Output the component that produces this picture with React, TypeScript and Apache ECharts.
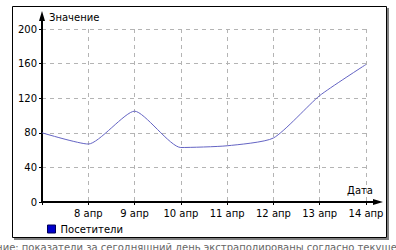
import React, { useEffect, useRef } from "react";
import * as echarts from "echarts";

const dates = ["7 апр", "8 апр", "9 апр", "10 апр", "11 апр", "12 апр", "13 апр", "14 апр"];
const visitors = [80, 67, 105, 63, 65, 74, 123, 159];
const yTicks = [0, 40, 80, 120, 160, 200];
const seriesName = "Посетители";
const yTitle = "Значение";
const xTitle = "Дата";
const footnote = "Примечание: показатели за сегодняшний день экстраполированы согласно текущему времени";

const FONT = "DejaVu Sans";

export default function App() {
  const ref = useRef<HTMLDivElement>(null);
  useEffect(() => {
    const chart = echarts.init(ref.current!, null, { renderer: "svg" });
    chart.setOption({
      animation: false,
      backgroundColor: "#fff",
      textStyle: { fontFamily: FONT },
      grid: { left: 42, top: 29, right: 30, bottom: 48, containLabel: false },
      legend: {
        left: 47,
        top: 224,
        icon: "rect",
        itemWidth: 8,
        itemHeight: 8,
        itemGap: 4,
        padding: 0,
        textStyle: { fontFamily: FONT, fontSize: 10, color: "#000" },
        data: [{ name: seriesName, itemStyle: { color: "#0000cc", borderColor: "#000055", borderWidth: 1 } }],
      },
      xAxis: {
        type: "category",
        data: dates,
        boundaryGap: false,
        axisLine: { show: true, lineStyle: { color: "#000", width: 2 } },
        axisTick: { show: true, length: 3, lineStyle: { color: "#000" }, alignWithLabel: true },
        axisLabel: {
          fontFamily: FONT,
          fontSize: 10,
          color: "#000",
          margin: 6,
          formatter: (v: string, i: number) => (i === 0 ? "" : v),
        },
        splitLine: { show: true, lineStyle: { color: "#b4b4b4", type: [4, 4], width: 1 } },
      },
      yAxis: {
        type: "value",
        min: yTicks[0],
        max: yTicks[yTicks.length - 1],
        interval: 40,
        axisLine: { show: true, lineStyle: { color: "#000", width: 2 } },
        axisTick: { show: true, length: 3, lineStyle: { color: "#000" } },
        axisLabel: { fontFamily: FONT, fontSize: 10, color: "#000", margin: 5 },
        splitLine: { show: true, lineStyle: { color: "#b4b4b4", type: [4, 4], width: 1 } },
      },
      series: [
        {
          name: seriesName,
          type: "line",
          data: visitors,
          smooth: 0.2,
          showSymbol: false,
          symbol: "none",
          lineStyle: { color: "#6464c4", width: 1 },
          itemStyle: { color: "#0000cc", borderColor: "#000055", borderWidth: 1 },
        },
      ],
      graphic: [
        {
          type: "rect",
          z: -10,
          silent: true,
          shape: { x: 12.5, y: 6.5, width: 374, height: 231 },
          style: { fill: "none", stroke: "#000", lineWidth: 1 },
        },
        {
          type: "line",
          silent: true,
          shape: { x1: 388, y1: 8, x2: 388, y2: 239 },
          style: { stroke: "#808080", lineWidth: 2 },
        },
        {
          type: "line",
          silent: true,
          shape: { x1: 14, y1: 239, x2: 389, y2: 239 },
          style: { stroke: "#808080", lineWidth: 2 },
        },
        {
          type: "line",
          silent: true,
          z: 10,
          shape: { x1: 42, y1: 29, x2: 42, y2: 18 },
          style: { stroke: "#000", lineWidth: 2 },
        },
        {
          type: "polygon",
          silent: true,
          z: 10,
          shape: { points: [[42, 11], [45, 21], [39, 21]] },
          style: { fill: "#000" },
        },
        {
          type: "line",
          silent: true,
          z: 10,
          shape: { x1: 366, y1: 202, x2: 376, y2: 202 },
          style: { stroke: "#000", lineWidth: 2 },
        },
        {
          type: "polygon",
          silent: true,
          z: 10,
          shape: { points: [[383, 202], [373, 199], [373, 205]] },
          style: { fill: "#000" },
        },
        {
          type: "text",
          silent: true,
          x: 49,
          y: 17,
          style: { text: yTitle, fontFamily: FONT, fontSize: 10, fill: "#000", textVerticalAlign: "middle" },
        },
        {
          type: "text",
          silent: true,
          x: 373,
          y: 190,
          style: { text: xTitle, fontFamily: FONT, fontSize: 10, fill: "#000", textAlign: "right", textVerticalAlign: "middle" },
        },
        {
          type: "text",
          silent: true,
          x: -50,
          y: 242,
          style: { text: footnote, fontFamily: FONT, fontSize: 10, fill: "#666", textVerticalAlign: "top" },
        },
      ],
    });
    return () => chart.dispose();
  }, []);
  return <div ref={ref} style={{ position: "absolute", left: 0, top: 0, width: 396, height: 250 }} />;
}
